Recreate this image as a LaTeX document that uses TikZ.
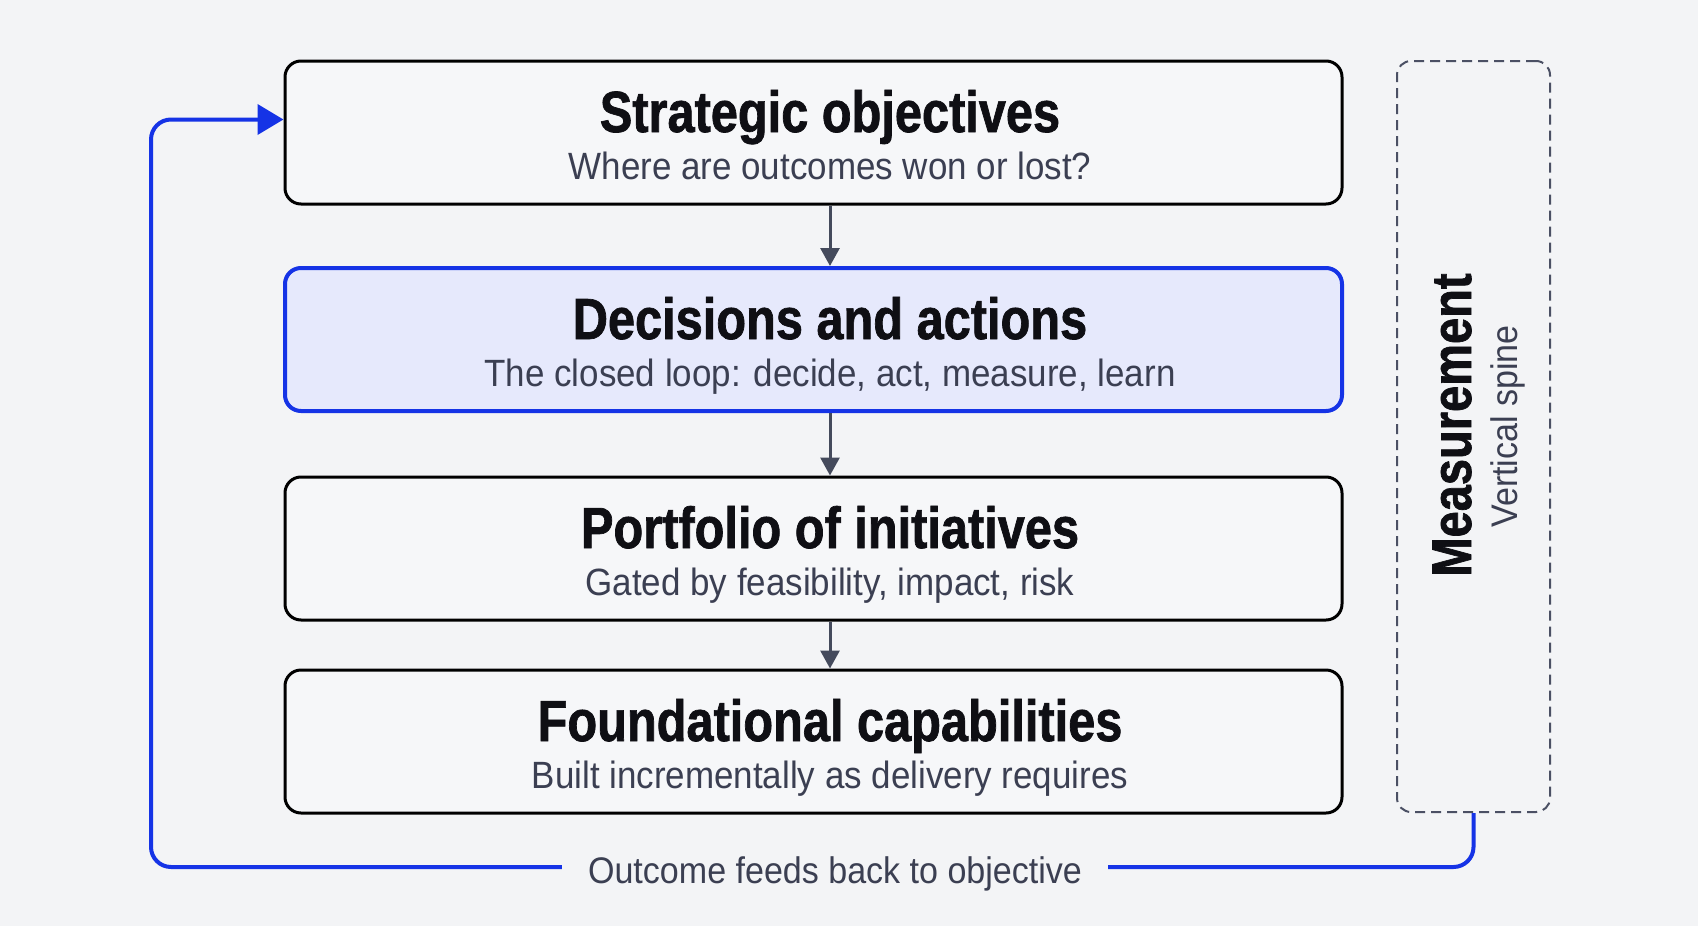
\documentclass[tikz,border=0pt]{standalone}
\usepackage{fontspec}
\setmainfont{Liberation Sans}
\newfontfamily\headfont[FakeStretch=0.84,FakeBold=1.2]{Liberation Sans}
\newfontfamily\subfont[FakeStretch=0.92]{Liberation Sans}
\usetikzlibrary{arrows.meta}
\definecolor{pagebg}{HTML}{F3F4F6}
\definecolor{boxfill}{HTML}{F6F7F9}
\definecolor{hotfill}{HTML}{E6E9FC}
\definecolor{loopblue}{HTML}{1533E6}
\definecolor{headblack}{HTML}{0F0F14}
\definecolor{subgray}{HTML}{3B3F52}
\definecolor{arrowgray}{HTML}{444A5C}
\definecolor{spinegray}{HTML}{4B5064}
\begin{document}
\begin{tikzpicture}[x=1pt,y=-1pt,
  box/.style={draw=black,line width=3pt,rounded corners=16pt,fill=boxfill,minimum width=1057pt,minimum height=143pt},
  hot/.style={box,draw=loopblue,line width=4pt,fill=hotfill},
  head/.style={anchor=base,inner sep=0pt,text=headblack,font=\headfont\bfseries\fontsize{58}{62}\selectfont},
  sub/.style={anchor=base,inner sep=0pt,text=subgray,font=\subfont\fontsize{38}{42}\selectfont},
  flow/.style={draw=arrowgray,line width=3pt,-{Triangle[length=18pt,width=19pt]}},
  spinebox/.style={draw=spinegray,line width=2pt,dash pattern=on 10pt off 6pt,rounded corners=14pt,minimum width=153pt,minimum height=751pt},
  loop/.style={draw=loopblue,line width=4pt,rounded corners=20pt,-{Triangle[length=26pt,width=30pt]}}]
\fill[pagebg] (0,0) rectangle (1698,926);
\useasboundingbox (0,0) rectangle (1698,926);
% the four layers
\node[box] (obj) at (813.5,132.5) {};
\node[hot] (dec) at (813.5,339.5) {};
\node[box] (port) at (813.5,548.5) {};
\node[box] (found) at (813.5,741.5) {};
\node[head] (objT) at (830,132) {Strategic objectives};
\node[sub] (objS) at (830,179) {Where are outcomes won or lost?};
\node[head] (decT) at (830,339) {Decisions and actions};
\node[sub] (decS) at (830,386) {The closed loop: decide, act, measure, learn};
\node[head] (portT) at (830,548) {Portfolio of initiatives};
\node[sub] (portS) at (830,595) {Gated by feasibility, impact, risk};
\node[head] (foundT) at (830,741) {Foundational capabilities};
\node[sub] (foundS) at (830,788) {Built incrementally as delivery requires};
\draw[flow] (objT |- obj.south) -- (objT |- dec.north);
\draw[flow] (decT |- dec.south) -- (decT |- port.north);
\draw[flow] (portT |- port.south) -- (portT |- found.north);
% measurement spine
\node[spinebox] (spine) at (1473.5,436.5) {};
\node[rotate=90,anchor=base,inner sep=0pt,text=headblack,font=\headfont\bfseries\fontsize{56}{60}\selectfont] (meas) at (1471,425) {Measurement};
\node[rotate=90,anchor=base,inner sep=0pt,text=subgray,font=\subfont\fontsize{37}{40}\selectfont] (spineT) at (1517,426.5) {Vertical spine};
% feedback loop
\coordinate (bend) at (151,867);
\draw[loop] (spine.south) |- (bend) |- ([yshift=13pt]obj.west);
\node[anchor=base,fill=pagebg,inner xsep=26pt,inner ysep=4pt,text=subgray,font=\subfont\fontsize{37}{40}\selectfont] (fb) at (835,883) {Outcome feeds back to objective};
\end{tikzpicture}
\end{document}
